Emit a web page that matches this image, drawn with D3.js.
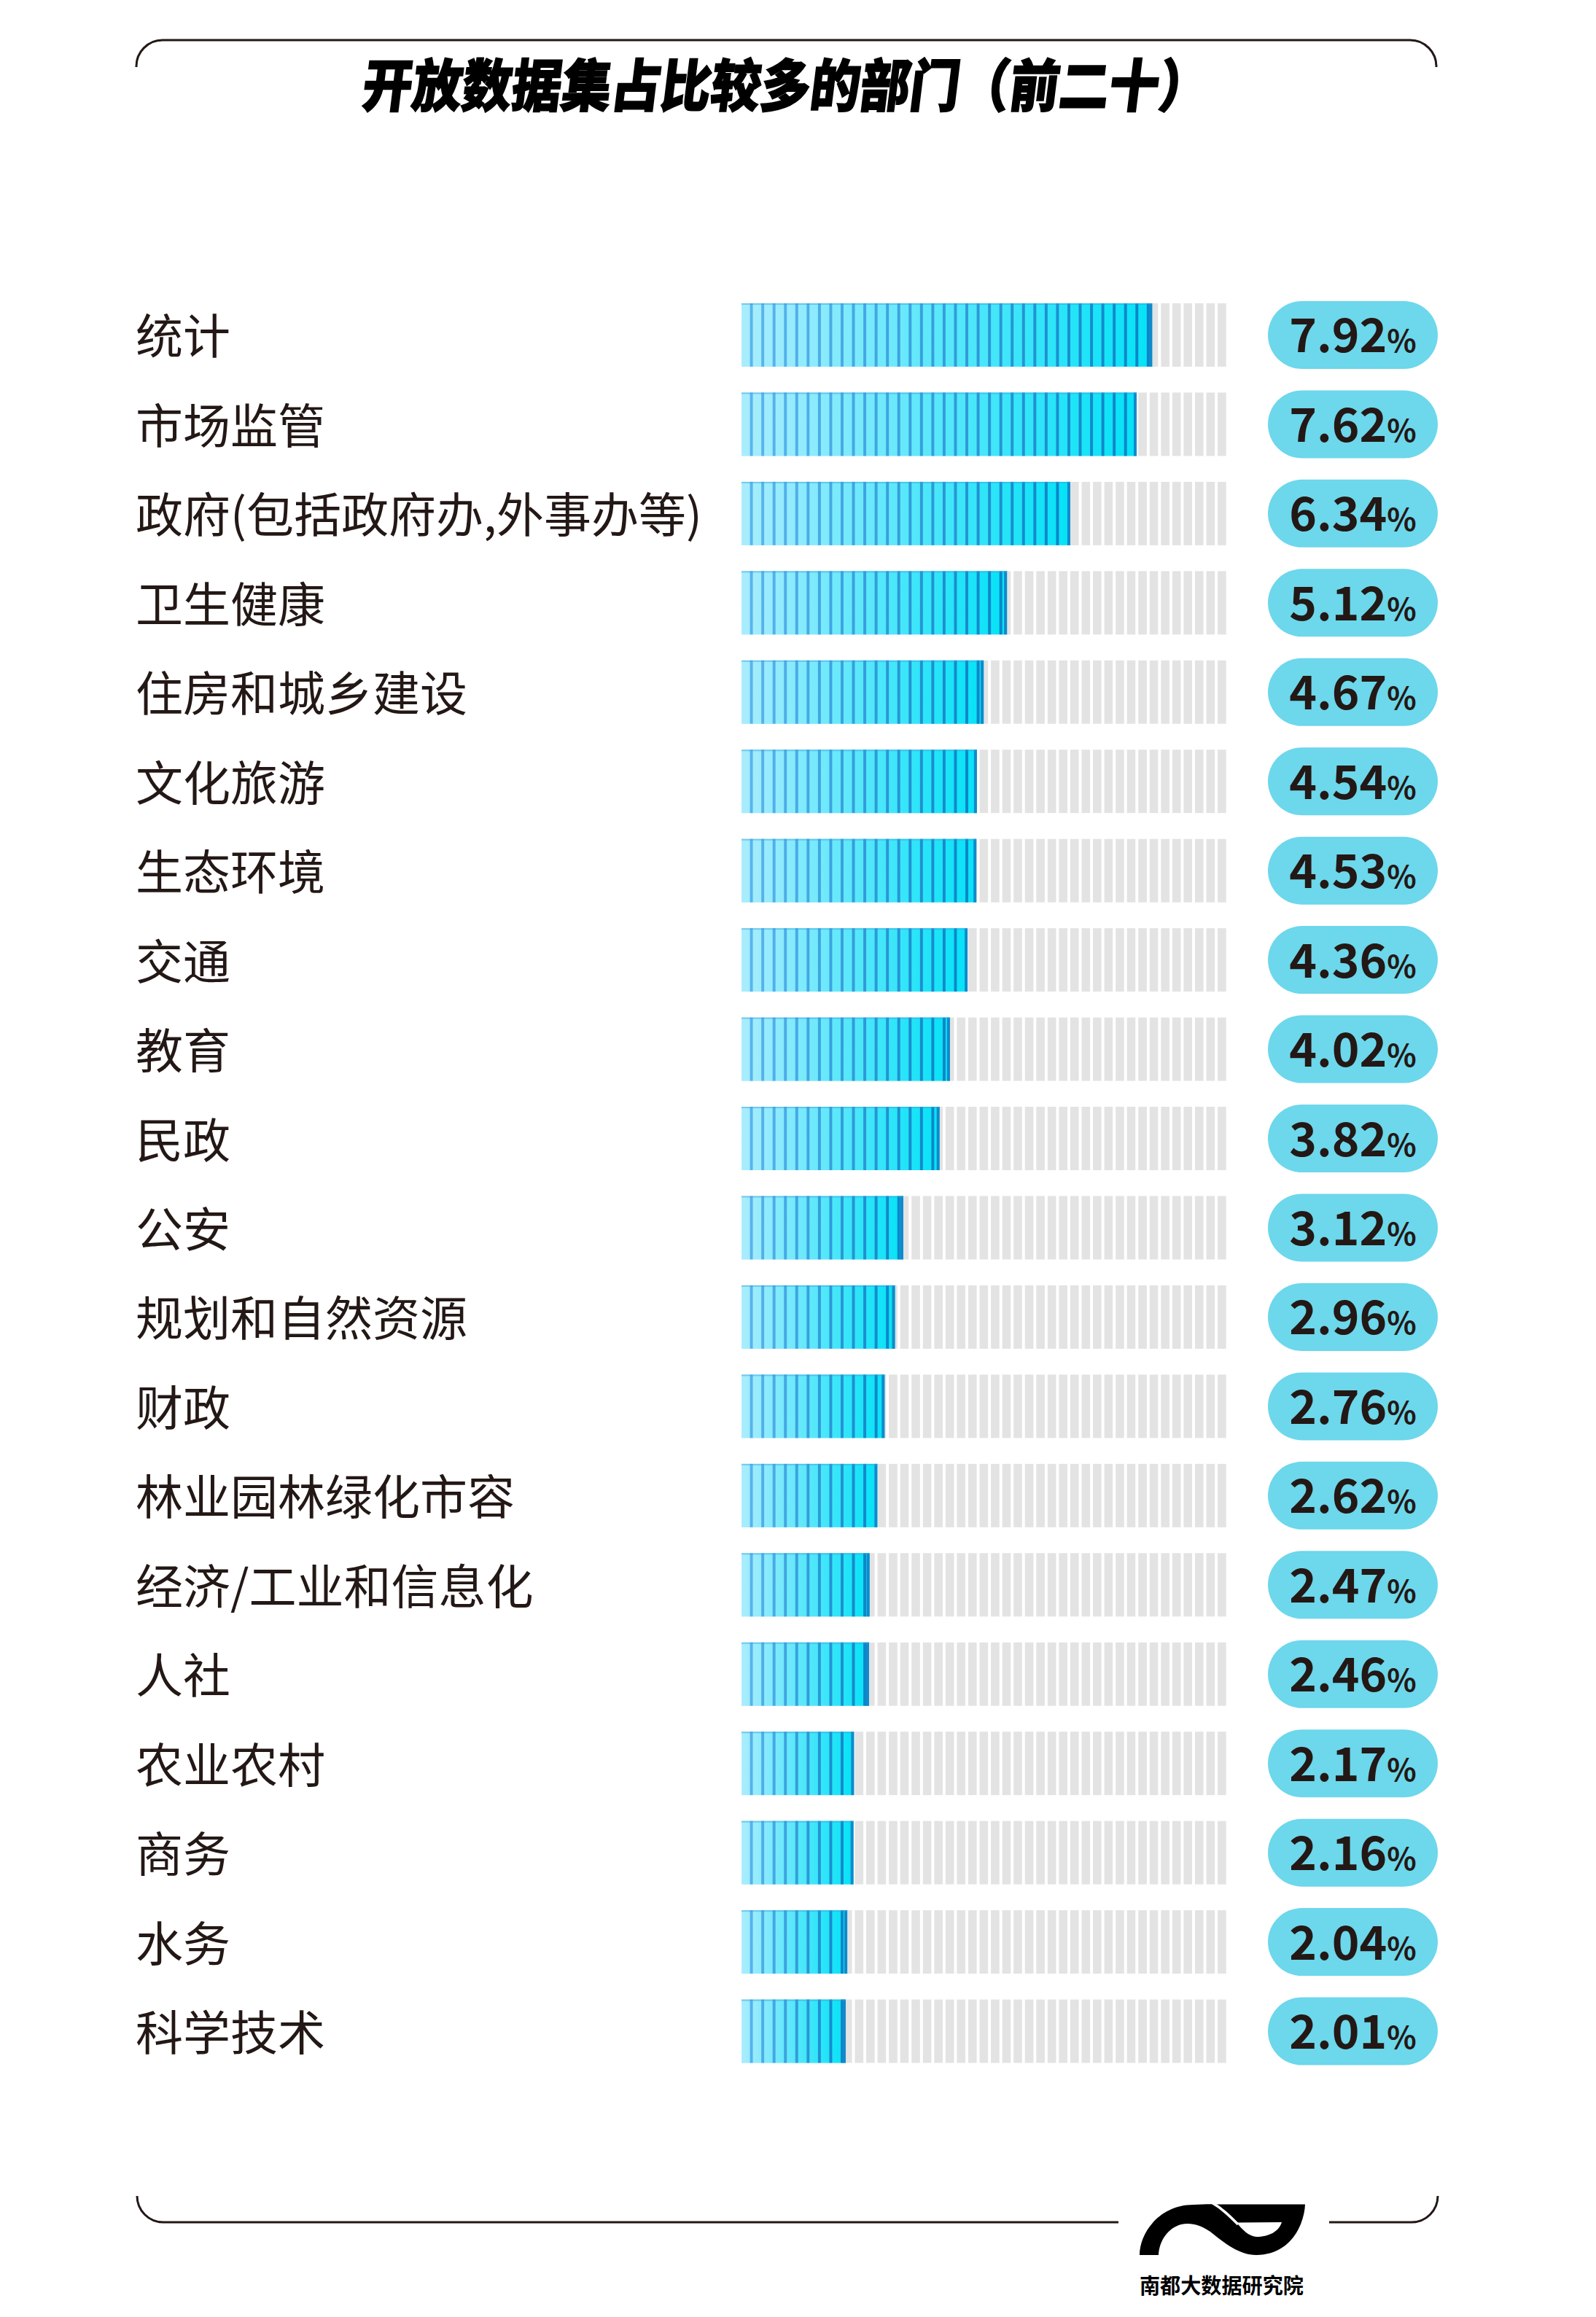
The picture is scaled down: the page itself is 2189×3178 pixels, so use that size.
<!DOCTYPE html>
<html>
<head>
<meta charset="utf-8">
<script src="https://cdn.jsdelivr.net/npm/d3@7"></script>
<style>
  html, body { margin: 0; padding: 0; background: #fff; }
  svg { display: block; }
</style>
</head>
<body>
<div class="canva"></div>
<script>
// data
const departments = ["统计", "市场监管", "政府(包括政府办,外事办等)", "卫生健康", "住房和城乡建设",
    "文化旅游", "生态环境", "交通", "教育", "民政", "公安", "规划和自然资源", "财政",
    "林业园林绿化市容", "经济/工业和信息化", "人社", "农业农村", "商务", "水务", "科学技术"];
const shares = [7.92, 7.62, 6.34, 5.12, 4.67, 4.54, 4.53, 4.36, 4.02, 3.82, 3.12, 2.96, 2.76,
    2.62, 2.47, 2.46, 2.17, 2.16, 2.04, 2.01];
const title = "开放数据集占比较多的部门（前二十）";
const brand = "南都大数据研究院";

const W = 2189, H = 3178;
const ink = "#231815";

const data = departments.map((d, i) => ({ name: d, value: shares[i] }));

const svg = d3.select(".canva").append("svg")
    .attr("width", W)
    .attr("height", H);

// gradients
const defs = svg.append("defs");
const grad = defs.append("linearGradient")
    .attr("id", "barGrad")
    .attr("x1", "0%").attr("x2", "100%").attr("y1", "0%").attr("y2", "0%");
grad.append("stop").attr("offset", "0%").attr("stop-color", "#aaedfd");
grad.append("stop").attr("offset", "100%").attr("stop-color", "#05e2f7");
const sepColor = d3.interpolateRgb("#5cb6f0", "#0a84c6");

// scales
const x = d3.scaleLinear()
    .domain([0, 9.35])
    .range([1017, 1682]);

const y = d3.scaleBand()
    .domain(departments)
    .range([416, 2829.5])
    .paddingInner(0.29)
    .paddingOuter(0);

const bw = y.bandwidth();
const cellStep = 15.55, cellW = 11.6, nCells = 43;
const cells = d3.range(nCells);

// frame
const frame = svg.append("g")
    .attr("fill", "none")
    .attr("stroke", ink)
    .attr("stroke-width", 3);

frame.append("path")
    .attr("d", "M187,92 A36,36 0 0 1 223,55 L1934,55 A36,36 0 0 1 1970,92");

frame.append("path")
    .attr("d", "M188,3012 A36,36 0 0 0 224,3048 L1534,3048");
frame.append("path")
    .attr("d", "M1823,3048 L1936,3048 A36,36 0 0 0 1972,3012");

// title
svg.append("text")
    .attr("x", 1079)
    .attr("y", 144)
    .attr("text-anchor", "middle")
    .attr("font-family", "'Noto Sans CJK SC', sans-serif")
    .attr("font-weight", 900)
    .attr("font-size", 72)
    .attr("fill", "#000")
    .attr("stroke", "#000")
    .attr("stroke-width", 1.6)
    .attr("transform", "translate(1066,117) skewX(-7) scale(0.948,1.08) translate(-1066,-117)")
    .text(title);

// rows
const rows = svg.selectAll("g.row")
    .data(data)
    .enter()
    .append("g")
    .attr("class", "row")
    .attr("transform", d => `translate(0, ${y(d.name)})`);

// labels
rows.append("text")
    .attr("x", 186)
    .attr("y", bw / 2)
    .attr("dy", "0.4em")
    .attr("font-family", "'Noto Sans CJK SC', sans-serif")
    .attr("font-size", 65)
    .attr("fill", ink)
    .text(d => d.name);

// grey background cells
rows.selectAll("rect.cell")
    .data(cells)
    .enter()
    .append("rect")
    .attr("class", "cell")
    .attr("x", i => x(0) + i * cellStep)
    .attr("y", 0)
    .attr("width", cellW)
    .attr("height", bw)
    .attr("fill", "#e3e3e3");

// coloured bar
rows.append("rect")
    .attr("x", x(0))
    .attr("y", 0)
    .attr("width", d => x(d.value) - x(0))
    .attr("height", bw)
    .attr("fill", "url(#barGrad)");

// separators inside bar
rows.each(function(d) {
    const g = d3.select(this);
    const len = x(d.value) - x(0);
    const seps = cells.filter(i => (i * cellStep + cellW) < len - 4);
    g.selectAll("rect.sep")
        .data(seps)
        .enter()
        .append("rect")
        .attr("class", "sep")
        .attr("x", i => x(0) + i * cellStep + cellW)
        .attr("y", 0)
        .attr("width", cellStep - cellW)
        .attr("height", bw)
        .attr("fill", i => sepColor((i * cellStep + cellW) / len));
    // end edge
    g.append("rect")
        .attr("x", x(d.value) - 4)
        .attr("y", 0)
        .attr("width", 4)
        .attr("height", bw)
        .attr("fill", sepColor(0.9));
    // top edge
    g.append("rect")
        .attr("x", x(0))
        .attr("y", 0)
        .attr("width", len)
        .attr("height", 2)
        .attr("fill", sepColor(0.5))
        .attr("opacity", 0.45);
});

// value pills
const pillX = 1739, pillW = 233, pillH = 93;
rows.append("rect")
    .attr("x", pillX)
    .attr("y", bw / 2 - pillH / 2)
    .attr("width", pillW)
    .attr("height", pillH)
    .attr("rx", pillH / 2)
    .attr("fill", "#6dd7eb");

const vt = rows.append("text")
    .attr("x", pillX + pillW / 2)
    .attr("y", bw / 2 + 24)
    .attr("text-anchor", "middle")
    .attr("font-family", "'Noto Sans CJK SC', sans-serif")
    .attr("font-weight", 700)
    .attr("fill", ink);
vt.append("tspan")
    .attr("font-size", 64)
    .text(d => d.value.toFixed(2));
vt.append("tspan")
    .attr("font-size", 42)
    .text("%");

// logo
const logo = svg.append("g")
    .attr("transform", "translate(1550, 3005)");
logo.append("path")
    .attr("fill", "#000")
    .attr("d", "M13,88 C13,58 40,19 87,19 C97,19 108,18 117,18.5 L240,18.5 " +
               "C239,45 221,88 173,88 C150,88 130,72 110,56 C96,46 82,43 70,46 " +
               "C52,51 40,68 39,88 Z");
logo.append("path")
    .attr("fill", "none")
    .attr("stroke", "#fff")
    .attr("stroke-width", 3.5)
    .attr("d", "M112,16 C126,24 137,35 148,46");
logo.append("path")
    .attr("fill", "#fff")
    .attr("d", "M146,43.5 L208,43 C204,56 190,63 173,63 C162,62 154,53 146,43.5 Z");
logo.append("text")
    .attr("x", 13)
    .attr("y", 141)
    .attr("font-family", "'Noto Sans CJK SC', sans-serif")
    .attr("font-weight", 700)
    .attr("font-size", 29)
    .attr("textLength", 225)
    .attr("lengthAdjust", "spacingAndGlyphs")
    .attr("fill", "#000")
    .text(brand);
</script>
</body>
</html>
